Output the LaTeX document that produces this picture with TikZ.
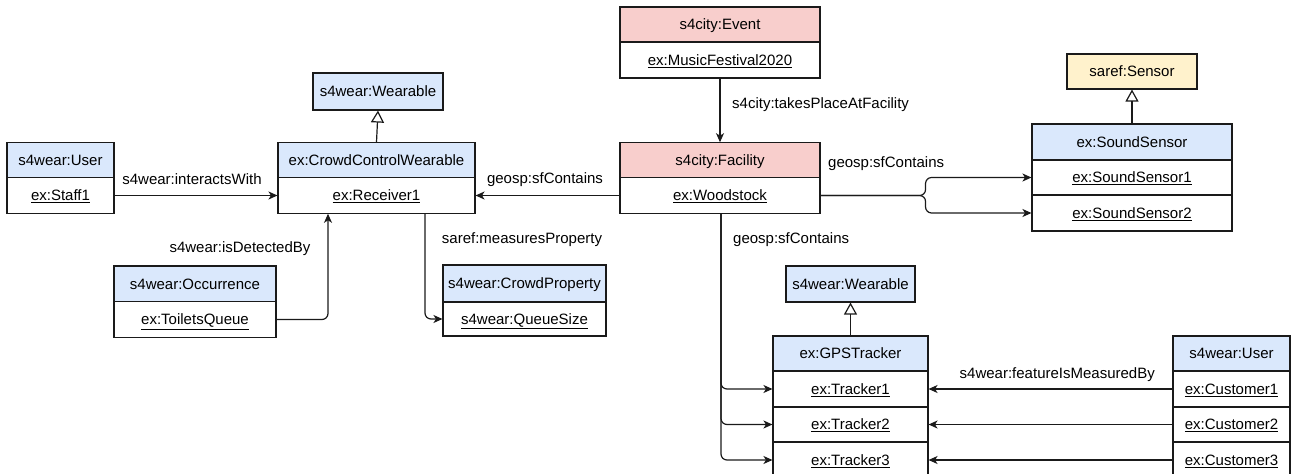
\documentclass[tikz,border=0pt]{standalone}
\usepackage{fontspec}
\setmainfont{Liberation Sans}
\usetikzlibrary{arrows.meta}
\definecolor{hblue}{HTML}{DAE8FC}
\definecolor{hred}{HTML}{F8CECC}
\definecolor{hyel}{HTML}{FFF2CC}
\definecolor{edgec}{HTML}{1A1A1A}
\begin{document}
\begin{tikzpicture}[x=1pt,y=-1pt,
  font=\fontsize{15}{18}\selectfont,
  box/.style={draw=edgec, line width=1.1pt, inner sep=0pt, align=center, text height=10.7pt, text depth=0pt},
  hdr/.style={box, fill=#1, minimum height=35.5},
  rowbox/.style={box, fill=white, minimum height=35.5},
  lbl/.style={inner sep=0pt, text height=10.7pt, text depth=0pt},
  arr/.style={draw=edgec, line width=1.2pt, -{Stealth[length=9pt,width=8pt,inset=2.5pt]}},
  inh/.style={draw=edgec, line width=1.2pt, -{Triangle[open,length=12pt,width=13pt,fill=white]}}]
\useasboundingbox (0,0) rectangle (1291,474);

% left user
\node[hdr=hblue, minimum width=107] (userL) at (60.5,160.5) {s4wear:User};
\node[rowbox, minimum width=107] (staff) at (60.5,195.5) {\underline{ex:Staff1}};

% wearable / crowd control
\node[hdr=hblue, minimum width=130, minimum height=37] (wear1) at (378,91.5) {s4wear:Wearable};
\node[hdr=hblue, minimum width=197] (ccw) at (376.5,160.5) {ex:CrowdControlWearable};
\node[rowbox, minimum width=197] (recv) at (376.5,195.5) {\underline{ex:Receiver1}};

% occurrence
\node[hdr=hblue, minimum width=162, minimum height=36] (occ) at (195,284) {s4wear:Occurrence};
\node[rowbox, minimum width=162] (toil) at (195,319.5) {\underline{ex:ToiletsQueue}};

% crowd property
\node[hdr=hblue, minimum width=163, minimum height=37] (cprop) at (524.5,283.5) {s4wear:CrowdProperty};
\node[rowbox, minimum width=163, minimum height=34] (qsize) at (524.5,319) {\underline{s4wear:QueueSize}};

% event / facility
\node[hdr=hred, minimum width=200, minimum height=35] (event) at (720,24.5) {s4city:Event};
\node[rowbox, minimum width=200, minimum height=36] (mf) at (720,60) {\underline{ex:MusicFestival2020}};
\node[hdr=hred, minimum width=200] (fac) at (720,160.5) {s4city:Facility};
\node[rowbox, minimum width=200] (wood) at (720,195.5) {\underline{ex:Woodstock}};

% sensors
\node[hdr=hyel, minimum width=130, minimum height=35] (sensor) at (1132,71.5) {saref:Sensor};
\node[hdr=hblue, minimum width=200, minimum height=36] (ssens) at (1132,142) {ex:SoundSensor};
\node[rowbox, minimum width=200, minimum height=35] (ss1) at (1132,177.5) {\underline{ex:SoundSensor1}};
\node[rowbox, minimum width=200, minimum height=36] (ss2) at (1132,213) {\underline{ex:SoundSensor2}};

% gps trackers
\node[hdr=hblue, minimum width=129, minimum height=36] (wear2) at (850.5,284) {s4wear:Wearable};
\node[hdr=hblue, minimum width=155, minimum height=35] (gps) at (850.5,353.5) {ex:GPSTracker};
\node[rowbox, minimum width=155, minimum height=36] (tr1) at (850.5,389) {\underline{ex:Tracker1}};
\node[rowbox, minimum width=155, minimum height=35] (tr2) at (850.5,424.5) {\underline{ex:Tracker2}};
\node[rowbox, minimum width=155, minimum height=36] (tr3) at (850.5,460) {\underline{ex:Tracker3}};

% right users
\node[hdr=hblue, minimum width=117, minimum height=35] (userR) at (1231.5,353.5) {s4wear:User};
\node[rowbox, minimum width=117, minimum height=36] (cu1) at (1231.5,389) {\underline{ex:Customer1}};
\node[rowbox, minimum width=117, minimum height=35] (cu2) at (1231.5,424.5) {\underline{ex:Customer2}};
\node[rowbox, minimum width=117, minimum height=36] (cu3) at (1231.5,460) {\underline{ex:Customer3}};

% inheritance
\draw[inh] (ccw.north) -- (wear1.south);
\draw[inh] (ssens.north) -- (sensor.south);
\draw[inh] (gps.north) -- (wear2.south);

% connectors
\draw[arr] (staff.east) -- (recv.west);
\draw[arr] (wood.west) -- (recv.east);
\draw[arr] (mf.south) -- (fac.north);
\draw[arr, rounded corners=6] (toil.east) -| ([xshift=-48.5]recv.south);
\draw[arr, rounded corners=6] ([xshift=48.5]recv.south) |- (qsize.west);
\draw[arr, rounded corners=6] (wood.east) -- ([xshift=105]wood.east) |- (ss1.west);
\draw[arr, rounded corners=6] (wood.east) -- ([xshift=105]wood.east) |- (ss2.west);
\draw[arr, rounded corners=6] ([xshift=1]wood.south) |- (tr1.west);
\draw[arr, rounded corners=6] ([xshift=1]wood.south) |- (tr2.west);
\draw[arr, rounded corners=6] ([xshift=1]wood.south) |- (tr3.west);
\draw[arr] (cu1.west) -- (tr1.east);
\draw[arr] (cu2.west) -- (tr2.east);
\draw[arr] (cu3.west) -- (tr3.east);

% labels
\node[lbl] (l1) at (192,179) {s4wear:interactsWith};
\node[lbl] (l2) at (240,247) {s4wear:isDetectedBy};
\node[lbl] (l3) at (545,178) {geosp:sfContains};
\node[lbl] (l4) at (522,238) {saref:measuresProperty};
\node[lbl, anchor=west] (l5) at (732,103) {s4city:takesPlaceAtFacility};
\node[lbl, anchor=west] (l6) at (828,162) {geosp:sfContains};
\node[lbl, anchor=west] (l7) at (733,238) {geosp:sfContains};
\node[lbl, anchor=east] (l8) at (1155,373) {s4wear:featureIsMeasuredBy};
\end{tikzpicture}
\end{document}
